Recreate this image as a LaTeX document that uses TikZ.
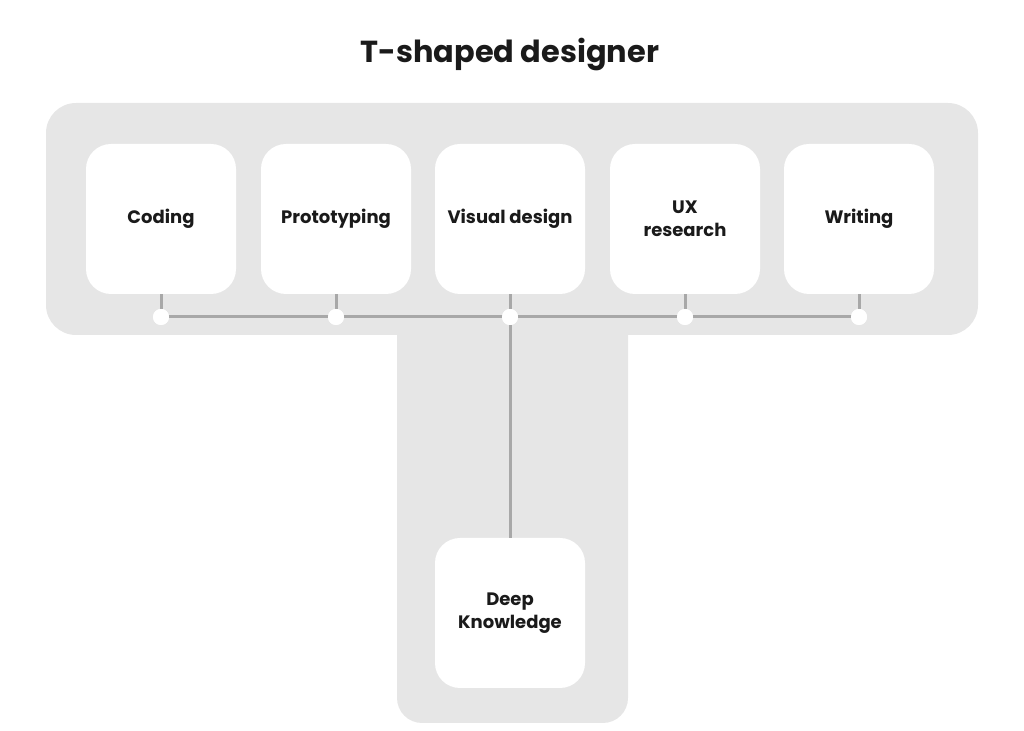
\documentclass[tikz,border=0pt]{standalone}
\usepackage{fontspec}
\setmainfont{Poppins}
\usepackage{xcolor}
\usepackage{tikz}
\usetikzlibrary{
  positioning
}
\definecolor{bandgray}{HTML}{E6E6E6}
\definecolor{linegray}{HTML}{A8A8A8}
\definecolor{inkblack}{HTML}{1A1A1A}

\begin{document}
\begin{tikzpicture}[
          x=0.5pt,y=-0.5pt,
          skill/.style={
              fill=white,
              rounded corners=12.5pt,
              minimum width=75pt,
              minimum height=75pt,
              align=center,
              text=inkblack,
              font=\fontsize{9}{11.75}\selectfont\bfseries
            },
          link/.style={
              draw=linegray,
              line width=1.5pt
            },
          joint/.style={
              circle,
              fill=white,
              inner sep=0pt,
              minimum size=8pt
            }
        ]
        \useasboundingbox (0,0) rectangle (1024,731);

        % 背景のT字形
        \fill[bandgray, rounded corners=15pt]
          (46,103) rectangle (978,335);
        \fill[bandgray, rounded corners=12.5pt]
          (397,300) -- (397,723) -- (628,723) -- (628,300) -- cycle;

        % タイトル
        \node[text=inkblack, font=\fontsize{15.2}{18}\selectfont\bfseries]
          (title) at (510,55) {T-shaped designer};

        % 横方向のスキル
        \node[skill] (coding) at (161,219) {Coding};
        \node[skill] (proto) at (336,219) {Prototyping};
        \node[skill] (visual) at (510,219) {Visual design};
        \node[skill] (ux) at (685,219) {UX\\research};
        \node[skill] (writing) at (859,219) {Writing};

        % 縦方向の専門性
        \node[skill] (deep) at (510,613) {Deep\\Knowledge};

        % 接続点
        \coordinate (bus_left) at (161,317);
        \coordinate (bus_right) at (859,317);
        \draw[link] (bus_left) -- (bus_right);
        \foreach \name/\x in {coding/161,proto/336,visual/510,ux/685,writing/859}{
            \node[joint] (\name_joint) at (\x,317) {};
            \draw[link] (\name.south) -- (\name_joint);
          }
        \draw[link] (visual_joint) -- (deep.north);
        \foreach \name in {coding,proto,visual,ux,writing}{
            \node[joint] at (\name_joint) {};
          }

      \end{tikzpicture}
\end{document}
